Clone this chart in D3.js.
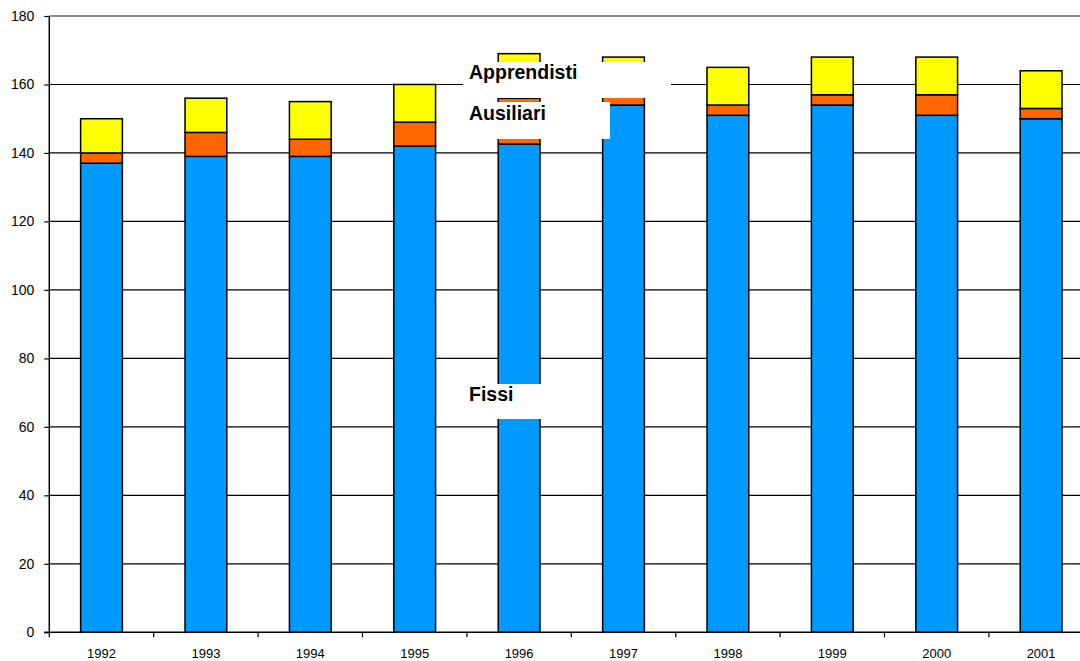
<!DOCTYPE html>
<html>
<head>
<meta charset="utf-8">
<script src="https://cdn.jsdelivr.net/npm/d3@7"></script>
<style>
  html, body { margin: 0; padding: 0; background: #fff; }
  svg { display: block; }
  text { font-family: "Liberation Sans", Arial, sans-serif; }
</style>
</head>
<body>
<svg id="chart" width="1080" height="661"></svg>
<script>
// Staff per year, split by contract type
const years = ["1992", "1993", "1994", "1995", "1996", "1997", "1998", "1999", "2000", "2001"];
const fissi = [137, 139, 139, 142, 142.6, 154, 151, 154, 151, 150];
const ausiliari = [3, 7, 5, 7, 13.4, 2.5, 3, 3, 6, 3];
const apprendisti = [10, 10, 11, 11, 13, 11.5, 11, 11, 11, 11];
const yTicks = [0, 20, 40, 60, 80, 100, 120, 140, 160, 180];

const seriesKeys = ["fissi", "ausiliari", "apprendisti"];
const seriesColors = { fissi: "#0099FF", ausiliari: "#FF6600", apprendisti: "#FFFF00" };

const rows = years.map((y, i) => ({
  year: y, fissi: fissi[i], ausiliari: ausiliari[i], apprendisti: apprendisti[i]
}));

const svg = d3.select("#chart");
const plotLeft = 49.3, plotRight = 1093.3, plotTop = 16, plotBottom = 632.3;

const x = d3.scaleBand().domain(years).range([plotLeft, plotRight]).paddingInner(0.6).paddingOuter(0.3);
const y = d3.scaleLinear().domain([0, 180]).range([plotBottom, plotTop]);

// Horizontal gridlines
svg.append("g").selectAll("line")
  .data(yTicks.filter(t => t > 0))
  .join("line")
  .attr("x1", plotLeft).attr("x2", 1080)
  .attr("y1", d => y(d)).attr("y2", d => y(d))
  .attr("stroke", d => d === 180 ? "#8c8c8c" : "#000")
  .attr("stroke-width", d => d === 180 ? 2 : 1.2);

// Stacked bars
const stacked = d3.stack().keys(seriesKeys)(rows);
svg.append("g").selectAll("g")
  .data(stacked)
  .join("g")
  .attr("fill", s => seriesColors[s.key])
  .selectAll("rect")
  .data(s => s)
  .join("rect")
  .attr("x", d => x(d.data.year))
  .attr("width", x.bandwidth())
  .attr("y", d => y(d[1]))
  .attr("height", d => y(d[0]) - y(d[1]))
  .attr("stroke", "#000")
  .attr("stroke-width", 1.5);

// Y axis
const yAxis = svg.append("g")
  .attr("transform", `translate(${plotLeft},0)`)
  .call(d3.axisLeft(y).tickValues(yTicks).tickSize(5).tickPadding(10).tickFormat(d3.format("d")));
yAxis.select(".domain").attr("stroke", "#000").attr("stroke-width", 1.5).attr("d", `M0,${plotTop}V${plotBottom}`);
yAxis.selectAll(".tick line").attr("stroke", "#000").attr("stroke-width", 1.2);
yAxis.selectAll("text").attr("font-size", 14).attr("fill", "#000")
  .attr("font-family", "'Liberation Sans', Arial, sans-serif");

// X axis: ticks at category boundaries
const boundaries = d3.range(years.length + 1).map(i => plotLeft + i * x.step());
const xAxisG = svg.append("g");
xAxisG.append("line")
  .attr("x1", plotLeft - 5).attr("x2", 1080)
  .attr("y1", plotBottom).attr("y2", plotBottom)
  .attr("stroke", "#000").attr("stroke-width", 1.5);
xAxisG.selectAll(".xt")
  .data(boundaries)
  .join("line")
  .attr("class", "xt")
  .attr("x1", d => d).attr("x2", d => d)
  .attr("y1", plotBottom).attr("y2", plotBottom + 5)
  .attr("stroke", "#000").attr("stroke-width", 1.2);
xAxisG.selectAll("text")
  .data(years)
  .join("text")
  .attr("x", d => x(d) + x.bandwidth() / 2)
  .attr("y", 658)
  .attr("text-anchor", "middle")
  .attr("font-size", 13)
  .attr("fill", "#000")
  .text(d => d);

// Series labels on white boxes
const labels = [
  { text: "Apprendisti", bx: 463, by: 62, bw: 208, bh: 36, tx: 469, ty: 78.5 },
  { text: "Ausiliari", bx: 463, by: 102, bw: 147, bh: 37, tx: 469, ty: 120 },
  { text: "Fissi", bx: 463, by: 384, bw: 100, bh: 35, tx: 469, ty: 400.5 }
];
const lg = svg.append("g");
lg.selectAll("rect")
  .data(labels)
  .join("rect")
  .attr("x", d => d.bx).attr("y", d => d.by)
  .attr("width", d => d.bw).attr("height", d => d.bh)
  .attr("fill", "#fff");
lg.selectAll("text")
  .data(labels)
  .join("text")
  .attr("x", d => d.tx).attr("y", d => d.ty)
  .attr("font-size", 19.5)
  .attr("font-weight", "bold")
  .attr("fill", "#000")
  .text(d => d.text);
</script>
</body>
</html>
